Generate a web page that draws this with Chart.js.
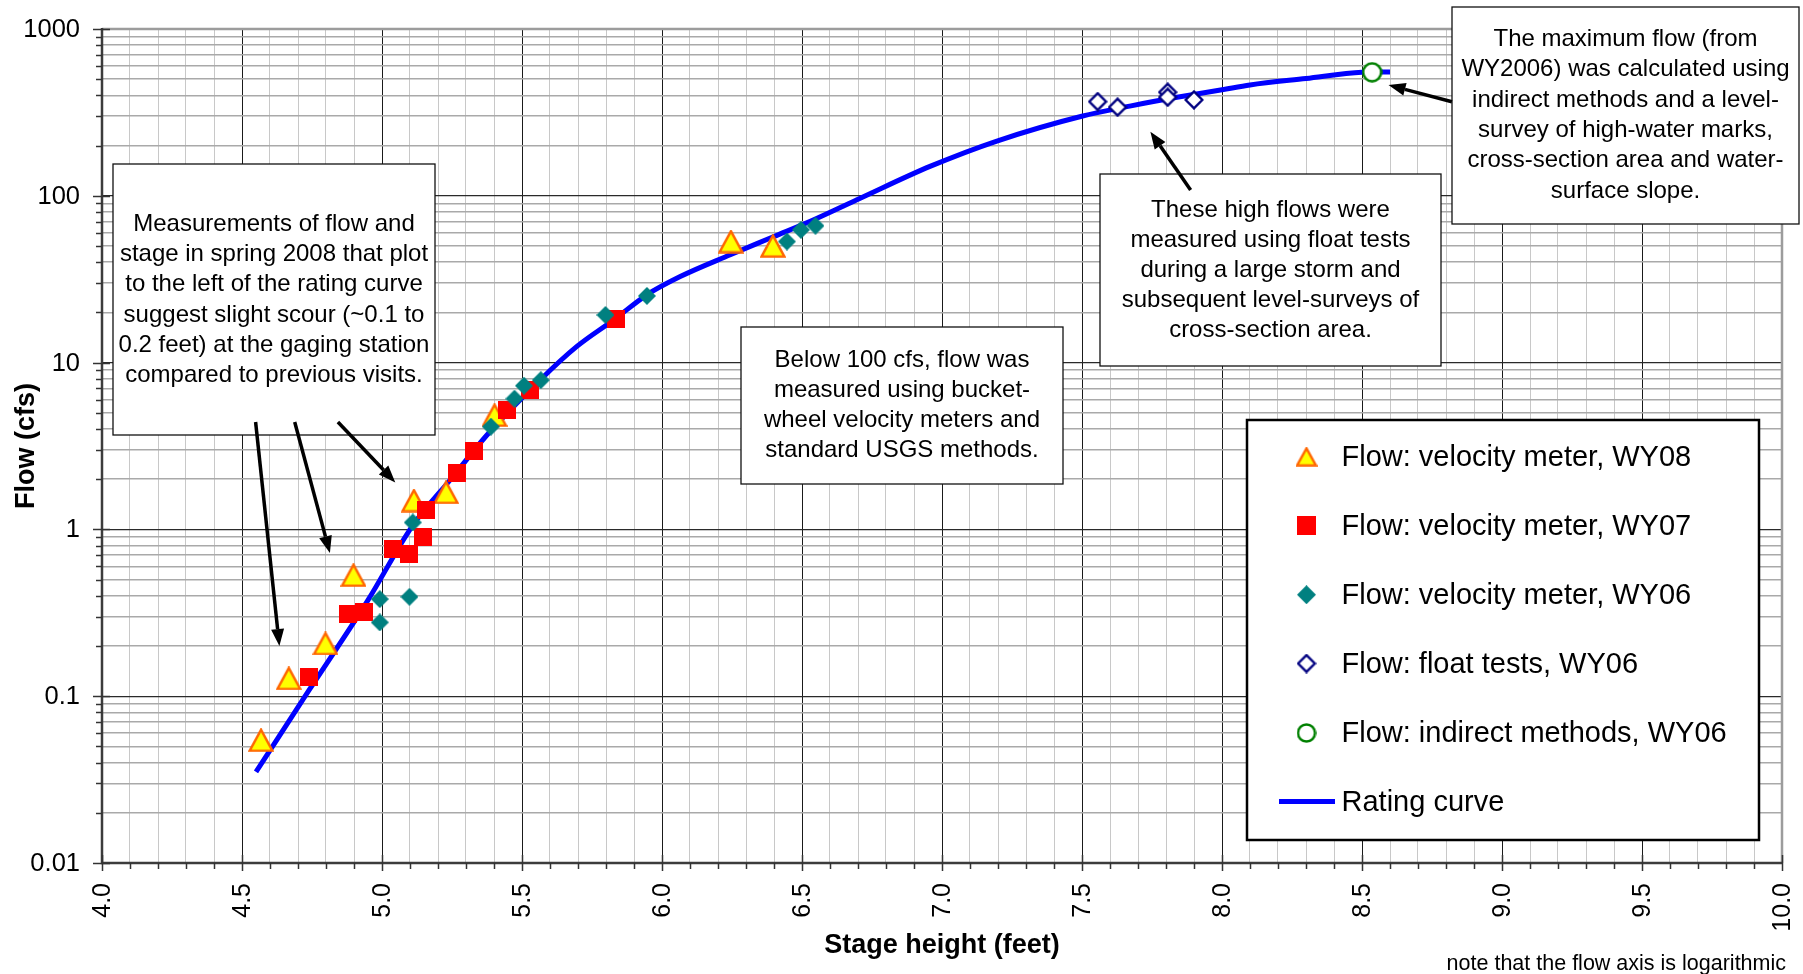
<!DOCTYPE html>
<html><head><meta charset="utf-8">
<script src="https://cdn.jsdelivr.net/npm/chart.js@4.4.1/dist/chart.umd.min.js"></script>
<style>html,body{margin:0;padding:0;background:#fff;}canvas{display:block;}</style>
</head><body>
<canvas id="c" width="1803" height="974"></canvas>
<script>
// ---------- data (stage in feet, flow in cfs) ----------
const wy08Stage = [4.568, 4.667, 4.798, 4.898, 5.114, 5.229, 5.402, 6.246, 6.396];
const wy08Flow  = [0.0545, 0.128, 0.207, 0.532, 1.49, 1.67, 4.85, 53.2, 50.1];

const wy07Stage = [4.738, 4.879, 4.937, 5.038, 5.096, 5.146, 5.157, 5.268, 5.327, 5.446, 5.530, 5.836];
const wy07Flow  = [0.131, 0.313, 0.321, 0.762, 0.708, 0.904, 1.31, 2.17, 2.96, 5.2, 6.88, 18.2];

const wy06Stage = [4.992, 4.992, 5.098, 5.110, 5.389, 5.473, 5.507, 5.567, 5.798, 5.946, 6.446, 6.496, 6.548];
const wy06Flow  = [0.382, 0.277, 0.394, 1.10, 4.13, 6.08, 7.27, 7.85, 19.3, 25.1, 53.2, 62.5, 66.1];

const floatStage = [7.556, 7.627, 7.806, 7.806, 7.900];
const floatFlow  = [367, 340, 418, 390, 376];

const indirectStage = [8.536];
const indirectFlow  = [550];

const ratingStage = [4.55, 4.74, 4.95, 5.107, 5.25, 5.375, 5.565, 5.696, 5.827, 5.946, 6.065, 6.244, 6.40, 6.542, 6.71, 6.957, 7.196, 7.499, 7.675, 7.834, 8.0, 8.1, 8.3, 8.5, 8.60];
const ratingFlow  = [0.0352, 0.109, 0.377, 1.04, 2.04, 3.68, 7.87, 12.5, 18.0, 25.5, 32.8, 44.3, 57, 71.8, 97, 150, 213, 300, 346, 388, 432, 462, 505, 550, 553];

const seriesNames = ['Flow: velocity meter, WY08', 'Flow: velocity meter, WY07', 'Flow: velocity meter, WY06',
                     'Flow: float tests, WY06', 'Flow: indirect methods, WY06', 'Rating curve'];

const xTickValues = [4.0, 4.5, 5.0, 5.5, 6.0, 6.5, 7.0, 7.5, 8.0, 8.5, 9.0, 9.5, 10.0];
const xTickLabels = ['4.0','4.5','5.0','5.5','6.0','6.5','7.0','7.5','8.0','8.5','9.0','9.5','10.0'];
const yTickValues = [0.01, 0.1, 1, 10, 100, 1000];
const yTickLabels = ['0.01','0.1','1','10','100','1000'];

const xTitle = 'Stage height (feet)';
const yTitle = 'Flow (cfs)';
const noteText = 'note that the flow axis is logarithmic';

const noteBox1 = ['Measurements of flow and', 'stage in spring 2008 that plot', 'to the left of the rating curve',
                  'suggest slight scour (~0.1 to', '0.2 feet) at the gaging station', 'compared to previous visits.'];
const noteBox2 = ['Below 100 cfs, flow was', 'measured using bucket-', 'wheel velocity meters and', 'standard USGS methods.'];
const noteBox3 = ['These high flows were', 'measured using float tests', 'during a large storm and',
                  'subsequent level-surveys of', 'cross-section area.'];
const noteBox4 = ['The maximum flow (from', 'WY2006) was calculated using', 'indirect methods and a level-',
                  'survey of high-water marks,', 'cross-section area and water-', 'surface slope.'];

// ---------- helpers ----------
const FONT = '"Liberation Sans", Arial, Helvetica, sans-serif';
const toPts = (xs, ys) => xs.map((x, i) => ({x: x, y: ys[i]}));

const xGrid = []; for (let i = 40; i <= 100; i++) xGrid.push(i / 10);
const yGrid = []; [0.01, 0.1, 1, 10, 100].forEach(d => { for (let m = 1; m <= 9; m++) yGrid.push(+(m * d).toPrecision(3)); }); yGrid.push(1000);
const isMajX = v => Math.abs(v * 2 - Math.round(v * 2)) < 1e-6;
const isMajY = v => Math.abs(Math.log10(v) - Math.round(Math.log10(v))) < 1e-6;

function mk(w, h, draw) { const cv = document.createElement('canvas'); cv.width = w; cv.height = h; draw(cv.getContext('2d'), w, h); return cv; }
function triangle(w, h) { return mk(w, h, (g, W, H) => { g.beginPath(); g.moveTo(W/2, 1.6); g.lineTo(W-1.6, H-1.4); g.lineTo(1.6, H-1.4); g.closePath(); g.fillStyle = '#FFFF00'; g.fill(); g.lineJoin = 'miter'; g.lineWidth = 2.4; g.strokeStyle = '#FF6600'; g.stroke(); }); }
function square(s) { return mk(s, s, (g, W, H) => { g.fillStyle = '#FF0000'; g.fillRect(0, 0, W, H); }); }
function diamond(s) { return mk(s, s, (g, W, H) => { g.beginPath(); g.moveTo(W/2, 0); g.lineTo(W, H/2); g.lineTo(W/2, H); g.lineTo(0, H/2); g.closePath(); g.fillStyle = '#008080'; g.fill(); }); }
function openDiamond(s) { return mk(s, s, (g, W, H) => { const p = 1.6; g.beginPath(); g.moveTo(W/2, p); g.lineTo(W-p, H/2); g.lineTo(W/2, H-p); g.lineTo(p, H/2); g.closePath(); g.fillStyle = '#fff'; g.fill(); g.lineWidth = 2.4; g.strokeStyle = '#000080'; g.stroke(); }); }
function openCircle(s) { return mk(s, s, (g, W, H) => { g.beginPath(); g.arc(W/2, H/2, W/2 - 1.5, 0, Math.PI*2); g.fillStyle = '#fff'; g.fill(); g.lineWidth = 2.5; g.strokeStyle = '#008000'; g.stroke(); }); }

const mTri = triangle(26, 24), mSq = square(18), mDia = diamond(18), mOD = openDiamond(20), mCirc = openCircle(21);
const lTri = triangle(22, 20), lSq = square(19), lDia = diamond(19), lOD = openDiamond(20), lCirc = openCircle(20);

function drawBox(c, x0, y0, x1, y1, lines, cx, firstY, lh, lw) {
  c.fillStyle = '#fff'; c.fillRect(x0, y0, x1 - x0, y1 - y0);
  c.lineWidth = lw; c.strokeStyle = '#111'; c.strokeRect(x0, y0, x1 - x0, y1 - y0);
  c.fillStyle = '#000'; c.font = '24px ' + FONT; c.textAlign = 'center'; c.textBaseline = 'middle';
  lines.forEach((t, i) => c.fillText(t, cx, firstY + i * lh));
}
function arrow(c, x0, y0, x1, y1) {
  const ang = Math.atan2(y1 - y0, x1 - x0), L = 17, W = 6.5;
  const bx = x1 - L * Math.cos(ang), by = y1 - L * Math.sin(ang);
  c.strokeStyle = '#000'; c.lineWidth = 3.5; c.lineCap = 'butt';
  c.beginPath(); c.moveTo(x0, y0); c.lineTo(bx, by); c.stroke();
  c.fillStyle = '#000'; c.beginPath(); c.moveTo(x1, y1);
  c.lineTo(bx + W * Math.sin(ang), by - W * Math.cos(ang));
  c.lineTo(bx - W * Math.sin(ang), by + W * Math.cos(ang)); c.closePath(); c.fill();
}

const overlay = {
  id: 'overlay',
  afterDraw(chart) {
    const c = chart.ctx, xs = chart.scales.x, ys = chart.scales.y, a = chart.chartArea;
    c.save();
    // plot frame
    c.strokeStyle = '#9c9c9c'; c.lineWidth = 2.5;
    c.beginPath(); c.moveTo(a.left, a.top); c.lineTo(a.right, a.top); c.lineTo(a.right, a.bottom); c.stroke();
    c.strokeStyle = '#3c3c3c'; c.lineWidth = 2.5;
    c.beginPath(); c.moveTo(a.left, a.top - 1); c.lineTo(a.left, a.bottom); c.lineTo(a.right + 1, a.bottom); c.stroke();
    // tick marks
    c.strokeStyle = '#333'; c.lineWidth = 1.5;
    xGrid.forEach(v => { const p = Math.round(xs.getPixelForValue(v)) + 0.5, m = isMajX(v);
      c.beginPath(); c.moveTo(p, a.bottom - (m ? 8 : 0)); c.lineTo(p, a.bottom + (m ? 8 : 6)); c.stroke(); });
    yGrid.forEach(v => { const p = Math.round(ys.getPixelForValue(v)) + 0.5, m = isMajY(v);
      c.beginPath(); c.moveTo(a.left - (m ? 9 : 6), p); c.lineTo(a.left + (m ? 8 : 0), p); c.stroke(); });
    // tick labels
    c.fillStyle = '#000'; c.font = '25.5px ' + FONT;
    c.textAlign = 'right'; c.textBaseline = 'middle';
    yTickValues.forEach((v, i) => c.fillText(yTickLabels[i], 80, ys.getPixelForValue(v) + 1));
    c.font = '25px ' + FONT;
    xTickValues.forEach((v, i) => {
      c.save(); c.translate(xs.getPixelForValue(v) + 1, 883); c.rotate(-Math.PI / 2);
      c.textAlign = 'right'; c.textBaseline = 'middle'; c.fillText(xTickLabels[i], 0, 0); c.restore();
    });
    // axis titles
    c.font = 'bold 27px ' + FONT; c.textAlign = 'center'; c.textBaseline = 'middle';
    c.fillText(xTitle, (a.left + a.right) / 2, 946);
    c.save(); c.translate(27, (a.top + a.bottom) / 2); c.rotate(-Math.PI / 2); c.fillText(yTitle, 0, 0); c.restore();
    c.font = '21.5px ' + FONT; c.textAlign = 'right'; c.textBaseline = 'alphabetic';
    c.fillText(noteText, 1786, 970);
    // annotation boxes
    drawBox(c, 113, 164, 435, 435, noteBox1, 274, 224, 30.3, 1.3);
    drawBox(c, 741, 327, 1063, 484, noteBox2, 902, 360, 30, 1.3);
    drawBox(c, 1100, 174, 1441, 366, noteBox3, 1270.5, 210, 30, 1.3);
    drawBox(c, 1452, 7, 1799, 224, noteBox4, 1625.5, 39.5, 30.3, 1.3);
    // arrows
    arrow(c, 255.6, 422, 279.4, 646);
    arrow(c, 294.7, 422, 329.9, 553);
    arrow(c, 337.9, 422, 395.3, 482.4);
    arrow(c, 1190.6, 190, 1150.4, 131.7);
    arrow(c, 1451.9, 101.7, 1388.5, 85);
    // legend
    c.fillStyle = '#fff'; c.fillRect(1247, 420, 512, 420);
    c.lineWidth = 2.5; c.strokeStyle = '#000'; c.strokeRect(1247, 420, 512, 420);
    const ly = [456.7, 525.5, 594.7, 663.5, 733, 801.5];
    const lm = [lTri, lSq, lDia, lOD, lCirc];
    lm.forEach((im, i) => c.drawImage(im, 1306.5 - im.width / 2, ly[i] - im.height / 2));
    c.strokeStyle = '#0000FF'; c.lineWidth = 5; c.beginPath(); c.moveTo(1279, ly[5]); c.lineTo(1335, ly[5]); c.stroke();
    c.fillStyle = '#000'; c.font = '29px ' + FONT; c.textAlign = 'left'; c.textBaseline = 'middle';
    seriesNames.forEach((t, i) => c.fillText(t, 1341.5, ly[i] + 1));
    c.restore();
  }
};

new Chart(document.getElementById('c'), {
  type: 'scatter',
  data: {
    datasets: [
      { label: seriesNames[0], data: toPts(wy08Stage, wy08Flow), pointStyle: mTri, order: 4 },
      { label: seriesNames[1], data: toPts(wy07Stage, wy07Flow), pointStyle: mSq, order: 3 },
      { label: seriesNames[2], data: toPts(wy06Stage, wy06Flow), pointStyle: mDia, order: 2 },
      { label: seriesNames[3], data: toPts(floatStage, floatFlow), pointStyle: mOD, order: 1 },
      { label: seriesNames[4], data: toPts(indirectStage, indirectFlow), pointStyle: mCirc, order: 0 },
      { label: seriesNames[5], data: toPts(ratingStage, ratingFlow), showLine: true, pointRadius: 0,
        borderColor: '#0000FF', borderWidth: 5, cubicInterpolationMode: 'monotone', order: 5 }
    ]
  },
  options: {
    responsive: false, animation: false, events: [],
    layout: { padding: { top: 29, right: 21, left: 0, bottom: 0 } },
    plugins: { legend: { display: false }, tooltip: { enabled: false } },
    scales: {
      x: {
        type: 'linear', min: 4, max: 10,
        afterBuildTicks: s => { s.ticks = xGrid.map(v => ({ value: v })); },
        afterFit: s => { s.height = 111; },
        ticks: { display: false },
        border: { display: false },
        grid: { drawTicks: false,
          color: ctx => (ctx.tick && isMajX(ctx.tick.value)) ? '#1a1a1a' : '#c8c8c8',
          lineWidth: 1 }
      },
      y: {
        type: 'logarithmic', min: 0.01, max: 1000,
        afterBuildTicks: s => { s.ticks = yGrid.map(v => ({ value: v })); },
        afterFit: s => { s.width = 102; },
        ticks: { display: false },
        border: { display: false },
        grid: { drawTicks: false,
          color: ctx => (ctx.tick && isMajY(ctx.tick.value)) ? '#2a2a2a' : '#a9a9a9',
          lineWidth: ctx => (ctx.tick && isMajY(ctx.tick.value)) ? 1.3 : 1.5 }
      }
    }
  },
  plugins: [overlay]
});
</script>
</body></html>
